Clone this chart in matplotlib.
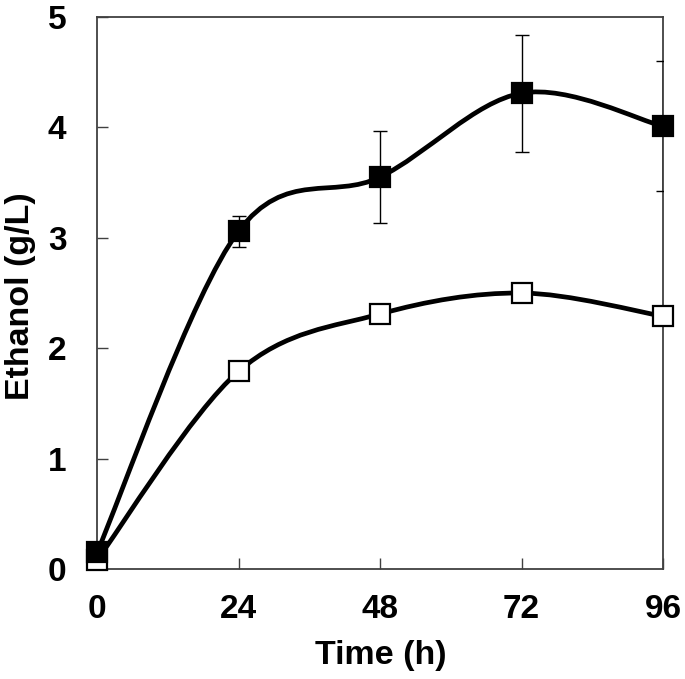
import numpy as np
import matplotlib
matplotlib.use("Agg")
import matplotlib.pyplot as plt
from matplotlib.path import Path
from matplotlib.patches import PathPatch

time_h = [0, 24, 48, 72, 96]
filled_vals = [0.15, 3.06, 3.55, 4.31, 4.01]
filled_err = [0.0, 0.14, 0.42, 0.53, 0.59]
open_vals = [0.08, 1.79, 2.31, 2.50, 2.29]
xticks = [0, 24, 48, 72, 96]
yticks = [0, 1, 2, 3, 4, 5]

plt.rcParams['font.family'] = ['Liberation Sans', 'DejaVu Sans']
plt.rcParams['font.weight'] = 'bold'

fig = plt.figure(figsize=(6.85, 6.79), dpi=100)
ax = fig.add_axes([97/685, 1-569/679, (663-97)/685, (569-17)/679])


def smooth_path(xs, ys, t=1/6):
    xs = np.asarray(xs, float); ys = np.asarray(ys, float)
    n = len(xs)
    verts = [(xs[0], ys[0])]
    codes = [Path.MOVETO]
    for i in range(n - 1):
        p0 = (xs[max(i-1, 0)], ys[max(i-1, 0)])
        p1 = (xs[i], ys[i])
        p2 = (xs[i+1], ys[i+1])
        p3 = (xs[min(i+2, n-1)], ys[min(i+2, n-1)])
        c1 = (p1[0] + (p2[0]-p0[0])*t, p1[1] + (p2[1]-p0[1])*t)
        c2 = (p2[0] - (p3[0]-p1[0])*t, p2[1] - (p3[1]-p1[1])*t)
        verts += [c1, c2, p2]
        codes += [Path.CURVE4]*3
    return Path(verts, codes)

for vals in (open_vals, filled_vals):
    ax.add_patch(PathPatch(smooth_path(time_h, vals), fill=False, lw=3.4,
                           edgecolor='black', zorder=2, capstyle='round'))

ax.errorbar(time_h, filled_vals, yerr=filled_err, fmt='none', ecolor='black',
            elinewidth=1.0, capsize=5, capthick=1.0, zorder=3)
ax.plot(time_h, open_vals, ls='none', marker='s', ms=15, mfc='white',
        mec='black', mew=1.6, zorder=4, clip_on=False)
ax.plot(time_h, filled_vals, ls='none', marker='s', ms=15, mfc='black',
        mec='black', mew=1.6, zorder=5, clip_on=False)

ax.set_xlim(0, 96)
ax.set_ylim(0, 5)
ax.set_xticks(xticks)
ax.set_yticks(yticks)
ax.tick_params(direction='in', length=8, width=1.0, color='#404040',
               labelsize=24, pad=18)
ax.tick_params(axis='y', pad=22)
for lab in ax.get_xticklabels() + ax.get_yticklabels():
    lab.set_fontweight('bold')
for s in ax.spines.values():
    s.set_color('#404040')
    s.set_linewidth(1.3)
ax.set_xlabel('Time (h)', fontsize=24.5, fontweight='bold', va='center')
ax.set_ylabel('Ethanol (g/L)', fontsize=24.5, fontweight='bold', va='center')
ax.xaxis.set_label_coords(0.502, -0.156)
ax.yaxis.set_label_coords(-0.136, 0.4946)

fig.savefig('out.png', dpi=100)
